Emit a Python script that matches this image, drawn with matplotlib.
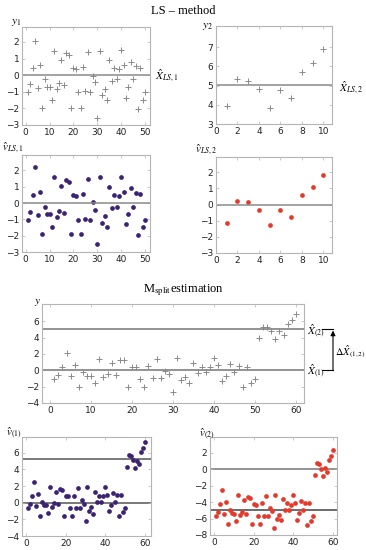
import numpy as np
import matplotlib
matplotlib.use('Agg')
import matplotlib.pyplot as plt
import matplotlib.transforms as mtransforms

plt.rcParams['font.family'] = 'DejaVu Sans'
plt.rcParams['mathtext.fontset'] = 'stix'

# observations, LS part
y1 = [-1.02, -0.55, 0.45, 2.06, -0.76, 0.63, -2.0, -0.24, -0.69, -0.69,
      -1.5, 1.43, -0.84, -0.49, 0.92, -0.61, 1.31, 1.24, -2.0, 0.41,
      0.35, -1.02, -2.0, 0.49, -0.98, 1.41, -1.0, -0.04, -0.43, -2.6,
      1.47, -1.2, -0.86, -1.5, 0.9, -0.35, 0.45, -0.25, 0.39, 1.53,
      0.59, -1.35, -0.69, 0.8, -0.24, 0.53, -2.05, 0.43, -1.5, -1.02]
y2 = [3.95, 5.35, 5.25, 4.8, 3.85, 4.75, 4.35, 5.7, 6.2, 6.9]

x_ls1 = 0.0
x_ls2 = 5.05

v_ls1 = [-1.01, -0.52, 0.52, 2.19, -0.76, 0.68, -1.9, -0.23, -0.66, -0.68,
         -1.45, 1.57, -0.87, -0.47, 1.03, -0.6, 1.42, 1.32, -1.9, 0.47,
         0.41, -1.03, -1.9, 0.54, -0.99, 1.5, -1.01, 0.04, -0.43, -2.5,
         1.59, -1.2, -0.82, -1.45, 0.99, -0.33, 0.52, -0.27, 0.43, 1.63,
         0.66, -1.3, -0.68, 0.91, -0.23, 0.62, -1.95, 0.54, -1.45, -1.01]
v_ls2 = [-1.16, 0.24, 0.14, -0.35, -1.27, -0.36, -0.78, 0.57, 1.1, 1.83]

# Msplit part
y_all = y1 + y2
x_m1 = 0.0
x_m2 = 5.05

v_m1 = [-0.69, -0.2, 0.85, 2.47, -0.45, 1.05, -1.58, 0.12, -0.28, -0.32,
        -1.18, 1.86, -0.53, -0.08, 1.3, -0.2, 1.7, 1.58, -1.62, 0.85,
        0.77, -0.69, -1.62, 0.85, -0.69, 1.78, -0.69, 0.36, -0.12, -2.19,
        1.86, -0.97, -0.49, -1.3, 1.3, 0.04, 0.85, 0.08, 0.81, 1.95,
        0.97, -1.05, -0.28, 1.18, 0.04, 0.93, -1.62, 0.89, -1.14, -0.65,
        4.34, 5.76, 5.6, 5.15, 4.22, 5.07, 4.7, 6.08, 6.6, 7.3]
v_m1_lines = [0.0, 5.25]

v_m2 = [-5.71, -5.18, -4.24, -2.53, -5.47, -4.04, -6.65, -4.94, -5.35, -5.43,
        -6.24, -3.14, -5.59, -5.18, -3.76, -5.43, -3.39, -3.51, -6.69, -4.24,
        -4.33, -5.71, -6.69, -4.16, -5.67, -3.22, -5.67, -4.69, -5.14, -7.18,
        -3.1, -6.0, -5.59, -6.2, -3.67, -5.02, -4.12, -5.02, -4.37, -3.14,
        -4.08, -6.12, -5.35, -3.88, -5.02, -4.08, -6.73, -4.08, -6.24, -5.67,
        -0.69, 0.73, 0.61, 0.04, -0.78, 0.08, -0.33, 1.1, 1.59, 2.33]
v_m2_lines = [0.0, -5.0]

W, H = 366, 550
fig = plt.figure(figsize=(W / 100, H / 100), dpi=100)

grey = '#8a8a8a'
purple = '#3b2272'
red = '#e33a2c'


def px_axes(l, t, r, b):
    ax = fig.add_axes([l / W, 1 - b / H, (r - l) / W, (b - t) / H])
    for s in ax.spines.values():
        s.set_color('#b5b5b5')
        s.set_linewidth(0.8)
    ax.tick_params(direction='in', length=2, width=0.5, color='#b5b5b5',
                   labelsize=6.5, labelcolor='#222222', pad=2,
                   top=True, right=True)
    return ax


def fig_text(x, y, s, **kw):
    fig.text(x / W, 1 - y / H, s, **kw)


def plus(ax, vals):
    xs = np.arange(1, len(vals) + 1)
    ax.plot(xs, vals, '+', color=grey, markersize=4, mew=0.7)


def dots(ax, vals, c):
    xs = np.arange(1, len(vals) + 1)
    ax.plot(xs, vals, 'o', color=c, markersize=3.4, mew=0)


lab = dict(fontsize=8, ha='center', va='center')
side = dict(fontsize=8, ha='left', va='center')

# titles
fig_text(183, 11, 'LS \u2013 method', fontsize=9, ha='center', va='center',
         family='Liberation Serif')
fig_text(183, 290, r'M$_{\mathrm{split}}$estimation', fontsize=9,
         ha='center', va='center', family='Liberation Serif')

# panel 1
ax = px_axes(22, 27, 150, 125)
plus(ax, y1)
ax.axhline(x_ls1, color=grey, lw=1.1)
ax.set_xlim(-1.5, 52)
ax.set_ylim(-3, 2.9)
ax.set_xticks(range(0, 51, 10))
ax.set_yticks(range(-3, 3))
fig_text(16, 23, r'$y_1$', **lab)
fig_text(155, 76, r'$\hat{X}_{LS,1}$', **side)

# panel 2
ax = px_axes(216, 26, 332, 124)
plus(ax, y2)
ax.axhline(x_ls2, color=grey, lw=1.1)
ax.set_xlim(0, 10.8)
ax.set_ylim(3, 8.1)
ax.set_xticks(range(0, 11, 2))
ax.set_yticks(range(3, 8))
fig_text(207, 26, r'$y_2$', **lab)
fig_text(339, 88, r'$\hat{X}_{LS,2}$', **side)

# panel 3
ax = px_axes(22, 155, 150, 252)
dots(ax, v_ls1, purple)
ax.axhline(0, color=grey, lw=1.1)
ax.set_xlim(-1.5, 52)
ax.set_ylim(-3, 2.95)
ax.set_xticks(range(0, 51, 10))
ax.set_yticks(range(-3, 3))
fig_text(13, 148, r'$\hat{v}_{LS,1}$', **lab)

# panel 4
ax = px_axes(216, 157, 332, 253)
dots(ax, v_ls2, red)
ax.axhline(0, color=grey, lw=1.1)
ax.set_xlim(0, 10.8)
ax.set_ylim(-3, 2.95)
ax.set_xticks(range(0, 11, 2))
ax.set_yticks(range(-3, 3))
fig_text(206, 150, r'$\hat{v}_{LS,2}$', **lab)

# panel 5
ax = px_axes(42, 304, 304, 403)
plus(ax, y_all)
ax.axhline(x_m1, color=grey, lw=1.3)
ax.axhline(x_m2, color=grey, lw=1.3)
ax.set_xlim(-2, 62)
ax.set_ylim(-4, 8.1)
ax.set_xticks(range(0, 61, 10))
ax.set_yticks(range(-4, 7, 2))
fig_text(37, 302, r'$y$', **lab)
fig_text(307, 331, r'$\hat{X}_{(2)}$', **side)
fig_text(307, 371, r'$\hat{X}_{(1)}$', **side)
fig_text(335, 352, r'$\Delta\hat{X}_{(1,2)}$', fontsize=7.5, ha='left',
         va='center')
tr = mtransforms.blended_transform_factory(ax.transAxes, ax.transData)
bx0, bx1 = (322 - 42) / 262, (333 - 42) / 262
ax.plot([bx0, bx1], [x_m2, x_m2], color='k', lw=0.8, transform=tr,
        clip_on=False)
ax.plot([bx0, bx1], [x_m1, x_m1], color='k', lw=0.8, transform=tr,
        clip_on=False)
ax.annotate('', xy=(bx1, x_m2 - 0.2), xytext=(bx1, x_m1), xycoords=tr,
            textcoords=tr,
            arrowprops=dict(arrowstyle='-|>', color='k', lw=0.8,
                            mutation_scale=7, shrinkA=0, shrinkB=0))

# panel 6
ax = px_axes(22, 437, 151, 536)
dots(ax, v_m1, purple)
for v in v_m1_lines:
    ax.axhline(v, color='#555555', lw=1.1, zorder=1)
ax.set_xlim(-2, 63)
ax.set_ylim(-4, 7.9)
ax.set_xticks(range(0, 61, 20))
ax.set_yticks(range(-4, 7, 2))
fig_text(14, 433, r'$\hat{v}_{(1)}$', **lab)

# panel 7
ax = px_axes(210, 437, 337, 535)
dots(ax, v_m2, red)
ax.axhline(v_m2_lines[0], color=grey, lw=1.3, zorder=1)
ax.axhline(v_m2_lines[1], color='#444444', lw=1.1, zorder=1)
ax.set_xlim(-2, 62)
ax.set_ylim(-8, 3.9)
ax.set_xticks(range(0, 61, 20))
ax.set_yticks(range(-8, 3, 2))
fig_text(207, 434, r'$\hat{v}_{(2)}$', **lab)

fig.savefig('out.png', dpi=100)
